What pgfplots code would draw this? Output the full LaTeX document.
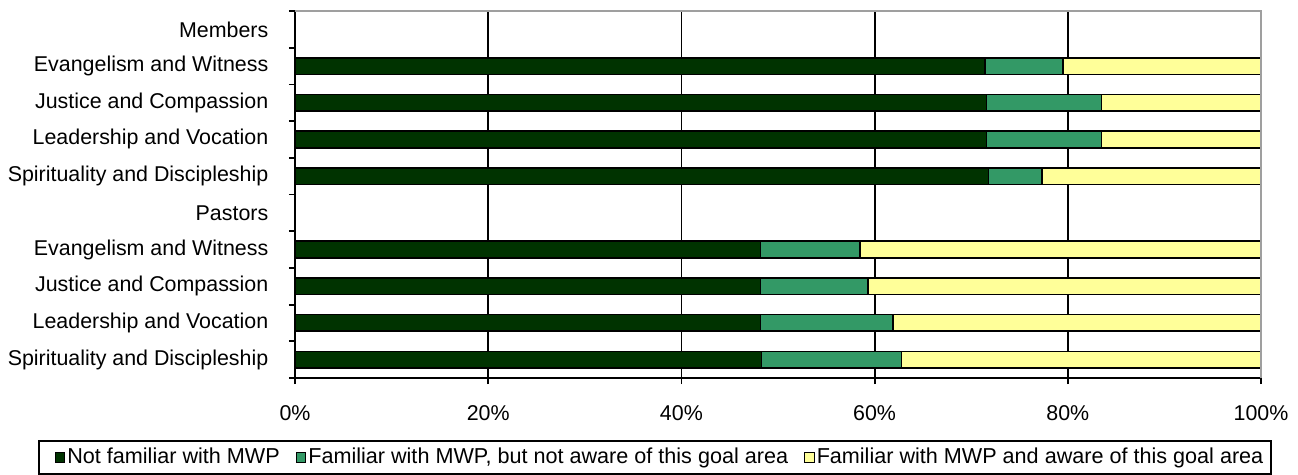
\documentclass[border=0pt]{standalone}
\usepackage{pgfplots}
\pgfplotsset{compat=1.18}
\usepackage{fontspec}
\setmainfont{Liberation Sans}
\definecolor{cdark}{HTML}{003300}
\definecolor{cmid}{HTML}{339966}
\definecolor{cyel}{HTML}{FFFF99}
\begin{document}
\fontsize{10.7}{12}\selectfont
\begin{tikzpicture}
\begin{axis}[
  scale only axis,
  width=483pt, height=183.5pt,
  xbar stacked,
  bar width=8.3pt,
  xmin=0, xmax=100,
  ymin=0.5, ymax=10.5,
  y dir=reverse,
  axis x line*=bottom,
  axis y line*=left,
  xtick={0,20,40,60,80,100},
  xticklabels={0\%,20\%,40\%,60\%,80\%,100\%},
  minor xtick={0,20,40,60,80,100},
  xmajorgrids=true,
  grid style={black, line width=0.9pt},
  major tick length=0pt,
  minor tick length=3pt,
  tick align=outside,
  tick style={black, line width=0.9pt},
  axis line style={black, line width=0.9pt},
  ytick={1,2,3,4,5,6,7,8,9,10},
  yticklabels={Members,Evangelism and Witness,Justice and Compassion,Leadership and Vocation,Spirituality and Discipleship,Pastors,Evangelism and Witness,Justice and Compassion,Leadership and Vocation,Spirituality and Discipleship},
  minor ytick={0.5,1.5,2.5,3.5,4.5,5.5,6.5,7.5,8.5,9.5,10.5},
  yticklabel style={font=\fontsize{10.7}{12}\selectfont, xshift=-9.6pt},
  xticklabel style={font=\fontsize{10.7}{12}\selectfont, yshift=-10pt},
  /pgf/number format/assume math mode=true,
  legend columns=3,
  legend style={at={(0.3727,-0.169)}, anchor=north, draw=black, line width=0.9pt,
    font=\fontsize{10.8}{12}\selectfont, /tikz/every even column/.append style={column sep=0pt},
    /tikz/every odd column/.append style={column sep=-1pt},
    inner xsep=2pt, inner ysep=1.5pt},
  legend image code/.code={\path[draw=none,fill=none] (0pt,0pt) -- (11pt,0pt);\draw[#1,draw=black,line width=0.6pt] (6.2pt,-2.4pt) rectangle (11pt,2.4pt);},
  after end axis/.code={
    \draw[gray!75, line width=1pt] (axis description cs:0,1) -- (axis description cs:1,1) -- (axis description cs:1,0);
    \path (axis description cs:0,1) ++(-147.5pt,5.5pt);
    \path (axis description cs:1,1) ++(18.5pt,5.5pt);
  },
]
\addplot[fill=cdark, draw=black, line width=0.8pt] coordinates {(71.4,2) (71.6,3) (71.6,4) (71.8,5) (48.2,7) (48.2,8) (48.2,9) (48.3,10)};
\addplot[fill=cmid, draw=black, line width=0.8pt] coordinates {(8.1,2) (11.9,3) (11.9,4) (5.5,5) (10.3,7) (11.1,8) (13.7,9) (14.5,10)};
\addplot[fill=cyel, draw=black, line width=0.8pt] coordinates {(20.5,2) (16.5,3) (16.5,4) (22.7,5) (41.5,7) (40.7,8) (38.1,9) (37.2,10)};
\legend{Not familiar with MWP,{Familiar with MWP, but not aware of this goal area},Familiar with MWP and aware of this goal area}
\end{axis}
\end{tikzpicture}
\end{document}
